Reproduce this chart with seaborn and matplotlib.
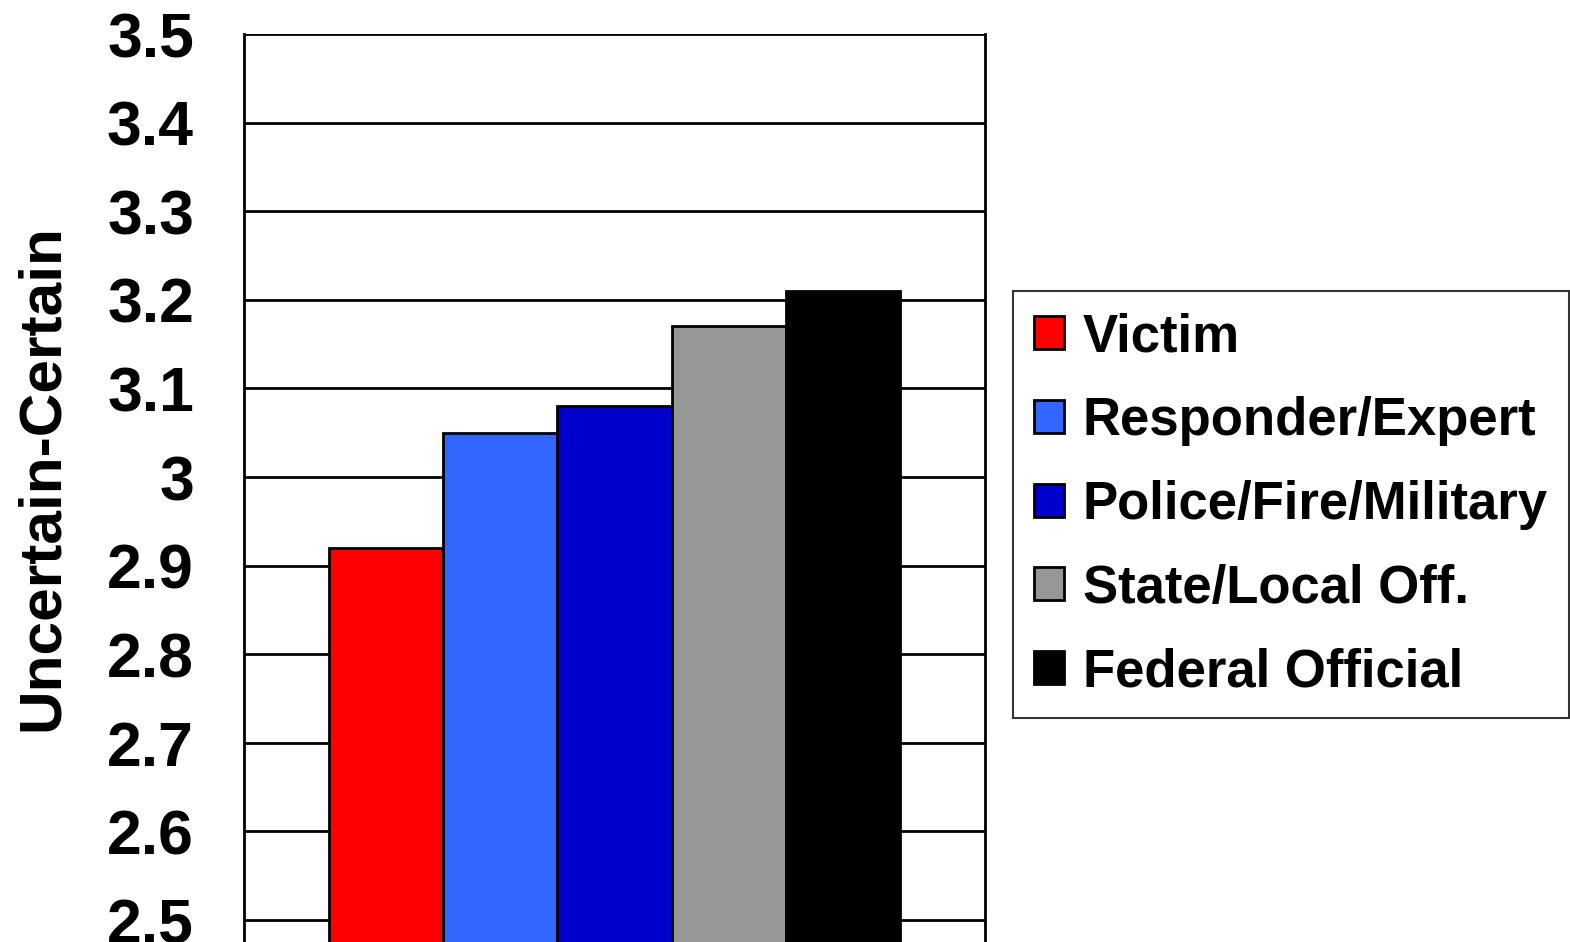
import pandas as pd
import seaborn as sns
import matplotlib.pyplot as plt

groups = ["Victim", "Responder/Expert", "Police/Fire/Military", "State/Local Off.", "Federal Official"]
scores = [2.92, 3.05, 3.08, 3.17, 3.21]
colors = ["#FF0000", "#3366FF", "#0000CC", "#969696", "#000000"]
yticks = [2.5, 2.6, 2.7, 2.8, 2.9, 3.0, 3.1, 3.2, 3.3, 3.4, 3.5]
ytick_labels = ["2.5", "2.6", "2.7", "2.8", "2.9", "3", "3.1", "3.2", "3.3", "3.4", "3.5"]

df = pd.DataFrame({"cat": [""] * len(groups), "group": groups, "score": scores})

sns.set_style("white")
plt.rcParams['font.family'] = ['Liberation Sans', 'DejaVu Sans']
plt.rcParams['font.weight'] = 'bold'
plt.rcParams['text.color'] = 'black'
plt.rcParams['ytick.color'] = 'black'
plt.rcParams['axes.labelcolor'] = 'black'

fig = plt.figure(figsize=(15.7, 9.42), dpi=100)
ax = fig.add_axes([0.1554, -0.0707, 0.472, 1.0346])

sns.barplot(
    data=df, x="cat", y="score", hue="group",
    hue_order=groups, palette=colors, saturation=1,
    width=0.77, edgecolor="black", linewidth=2,
    ax=ax,
)

ax.set_ylim(2.4, 3.5)
ax.set_yticks(yticks)
ax.set_yticklabels(ytick_labels, fontsize=45, fontweight='bold')
ax.tick_params(axis='y', direction='out', length=15, width=1.8, color='black', pad=21)
ax.tick_params(axis='x', length=0, labelbottom=False)
ax.set_xlabel("")
ax.set_ylabel("Uncertain-Certain", fontsize=43.5, fontweight='bold')
ax.yaxis.set_label_coords(-0.2348, 0.5445)

ax.grid(axis='y', color='black', linewidth=2, zorder=0)
ax.set_axisbelow(True)
for side in ["left", "right"]:
    ax.spines[side].set_color("black")
    ax.spines[side].set_linewidth(2)
ax.spines["top"].set_visible(False)
ax.spines["bottom"].set_visible(False)

handles, labels = ax.get_legend_handles_labels()
ax.get_legend().remove()
leg = fig.legend(
    handles, labels, loc='upper left', bbox_to_anchor=(0.645, 0.691),
    prop={'size': 38, 'weight': 'bold'}, frameon=True, fancybox=False,
    handlelength=0.58, handleheight=0.58, handletextpad=0.35,
    labelspacing=0.64, borderpad=0.4, borderaxespad=0,
)
leg.get_frame().set_edgecolor('black')
leg.get_frame().set_linewidth(1.5)

fig.savefig("out.png", dpi=100)
